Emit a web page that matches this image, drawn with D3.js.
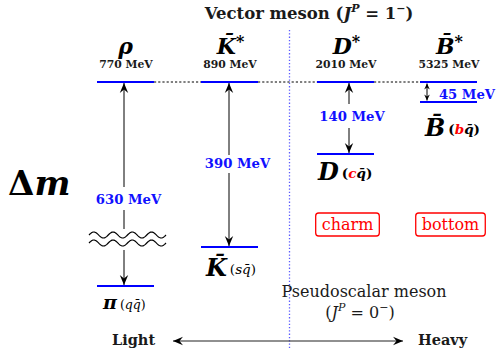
<!DOCTYPE html>
<html><head><meta charset="utf-8">
<script src="https://cdn.jsdelivr.net/npm/d3@7/dist/d3.min.js"></script>
<style>body{margin:0;background:#fff}svg{display:block}</style>
</head><body>
<script>
// ---- data ----
const mesons = ["rho", "Kstar", "Dstar", "Bstar"];
const vectorSymbol = ["ρ", "K", "D", "B"];
const vectorBar = [false, true, false, true];
const vectorStar = [false, true, true, true];
const vectorMass = [770, 890, 2010, 5325];
const massSplit = [630, 390, 140, 45];
const pseudoSymbol = ["π", "K", "D", "B"];
const pseudoBar = [false, true, false, true];
const quark = ["q", "s", "c", "b"];
const heavyQuark = [false, false, true, true];
const flavorTag = [null, null, "charm", "bottom"];

const W = 498, H = 348;
const svg = d3.select("body").append("svg").attr("width", W).attr("height", H);
const serif = "DejaVu Serif";

const x = d3.scaleOrdinal().domain(mesons).range([125.5, 229.5, 345.5, 448.5]);
// broken (piecewise) scale for mass splitting: pi level drawn with a break
const y = d3.scaleLinear().domain([0, 45, 140, 390, 630]).range([82, 102, 154, 247, 286]);
const halfW = 28.5;
const arrowDx = [-1.5, -0.5, 3.5, -21.5];

const defs = svg.append("defs");
defs.append("marker").attr("id", "stl").attr("markerUnits", "userSpaceOnUse")
  .attr("viewBox", "-11 -6 12 12").attr("refX", 0).attr("refY", 0)
  .attr("markerWidth", 12).attr("markerHeight", 12).attr("orient", "auto-start-reverse")
  .append("path").attr("d", "M0,0 L-10,-4.2 L-6.5,0 L-10,4.2 Z").attr("fill", "#000");
defs.append("marker").attr("id", "stlS").attr("markerUnits", "userSpaceOnUse")
  .attr("viewBox", "-7 -4 8 8").attr("refX", 0).attr("refY", 0)
  .attr("markerWidth", 8).attr("markerHeight", 8).attr("orient", "auto-start-reverse")
  .append("path").attr("d", "M0,0 L-6,-2.8 L-4,0 L-6,2.8 Z").attr("fill", "#000");

// divider
svg.append("line").attr("x1", 289.5).attr("x2", 289.5).attr("y1", 30).attr("y2", H)
  .attr("stroke", "#5a5aff").attr("stroke-width", 1.3).attr("stroke-dasharray", "1.3,2");

// title
const t1 = svg.append("text").attr("x", 309).attr("y", 19).attr("text-anchor", "middle")
  .attr("font-family", serif).attr("font-weight", "bold").attr("font-size", 16.5).attr("fill", "#1a1a1a");
t1.append("tspan").text("Vector meson (");
t1.append("tspan").attr("font-style", "italic").text("J");
t1.append("tspan").attr("font-style", "italic").attr("font-size", 11).attr("dy", -7).text("P");
t1.append("tspan").attr("dy", 7).text(" = 1");
t1.append("tspan").attr("font-size", 11).attr("dy", -7).text("−");
t1.append("tspan").attr("dy", 7).text(")");

// dotted connector at vector level
for (let i = 0; i < mesons.length - 1; i++) {
  svg.append("line").attr("x1", x(mesons[i]) + halfW).attr("x2", x(mesons[i + 1]) - halfW)
    .attr("y1", y(0)).attr("y2", y(0)).attr("stroke", "#000").attr("stroke-width", 1)
    .attr("stroke-dasharray", "2.2,2");
}

// levels
mesons.forEach((m, i) => {
  [0, massSplit[i]].forEach(v => {
    svg.append("line").attr("x1", x(m) - halfW).attr("x2", x(m) + halfW)
      .attr("y1", y(v)).attr("y2", y(v)).attr("stroke", "#0000ff").attr("stroke-width", 2.2);
  });
});

// vector labels
mesons.forEach((m, i) => {
  const cx = x(m) + (i === 0 ? 0 : 1);
  const t = svg.append("text").attr("x", cx).attr("y", 54).attr("text-anchor", "middle")
    .attr("font-family", serif).attr("font-weight", "bold").attr("font-style", "italic")
    .attr("font-size", 22).attr("fill", "#000");
  t.append("tspan").text(vectorSymbol[i] + (vectorBar[i] ? "\u0304" : ""));
  if (vectorStar[i]) t.append("tspan").attr("font-style", "normal").attr("font-size", 16).attr("dy", -7).text("*");
  svg.append("text").attr("x", x(m) + 0.5).attr("y", 68).attr("text-anchor", "middle")
    .attr("font-family", serif).attr("font-weight", "bold").attr("font-size", 10.8).attr("fill", "#1a1a1a")
    .text(vectorMass[i] + " MeV");
});

// arrows
const gapLab = [[187, 210], [155, 173], [104, 128], null];
mesons.forEach((m, i) => {
  const ax = x(m) + arrowDx[i];
  const y0 = y(0) + 1, y1 = y(massSplit[i]) - 1;
  if (i === 3) {
    svg.append("line").attr("x1", ax).attr("x2", ax).attr("y1", y0 + 0.5).attr("y2", y1 - 0.5)
      .attr("stroke", "#000").attr("stroke-width", 1)
      .attr("marker-start", "url(#stlS)").attr("marker-end", "url(#stlS)");
    return;
  }
  const g = gapLab[i];
  svg.append("line").attr("x1", ax).attr("x2", ax).attr("y1", g[0]).attr("y2", y0)
    .attr("stroke", "#000").attr("stroke-width", 1).attr("marker-end", "url(#stl)");
  if (i === 0) {
    svg.append("line").attr("x1", ax).attr("x2", ax).attr("y1", g[1]).attr("y2", 229)
      .attr("stroke", "#000").attr("stroke-width", 1);
    svg.append("line").attr("x1", ax).attr("x2", ax).attr("y1", 250).attr("y2", y1)
      .attr("stroke", "#000").attr("stroke-width", 1).attr("marker-end", "url(#stl)");
  } else {
    svg.append("line").attr("x1", ax).attr("x2", ax).attr("y1", g[1]).attr("y2", y1)
      .attr("stroke", "#000").attr("stroke-width", 1).attr("marker-end", "url(#stl)");
  }
});

// wavy break
[235, 243].forEach(wy => {
  const pts = d3.range(0, 77.01, 0.5).map(d => [89 + d, wy + 3 * Math.sin(d / 77 * 4 * 2 * Math.PI + Math.PI)]);
  svg.append("path").attr("d", d3.line()(pts)).attr("fill", "none").attr("stroke", "#000").attr("stroke-width", 1.2);
});

// mass splitting labels
const splitPos = [[128.5, 204], [237.5, 168], [352, 121], [467, 98.5]];
mesons.forEach((m, i) => {
  svg.append("text").attr("x", splitPos[i][0]).attr("y", splitPos[i][1]).attr("text-anchor", "middle")
    .attr("font-family", serif).attr("font-weight", "bold").attr("font-size", 13.2).attr("fill", "#1010ff")
    .text(massSplit[i] + " MeV");
});

// pseudoscalar labels
const psPos = [[103, 309], [206, 276], [318, 180], [425, 136]];
mesons.forEach((m, i) => {
  const t = svg.append("text").attr("x", psPos[i][0]).attr("y", psPos[i][1])
    .attr("font-family", serif).attr("font-weight", "bold").attr("font-size", i === 0 ? 19 : 24).attr("fill", "#000");
  t.append("tspan").attr("font-style", "italic").text(pseudoSymbol[i] + (pseudoBar[i] ? "\u0304" : ""));
  const dy = i === 0 ? 0 : -2;
  const fs = i === 0 ? 12.5 : 13.5;
  t.append("tspan").attr("font-size", fs).attr("font-weight", heavyQuark[i] ? "bold" : "normal").attr("dx", 3).attr("dy", dy).text("(");
  t.append("tspan").attr("font-size", fs).attr("font-style", "italic")
    .attr("font-weight", heavyQuark[i] ? "bold" : "normal")
    .attr("fill", heavyQuark[i] ? "#ff0000" : "#000").text(quark[i]);
  t.append("tspan").attr("font-size", fs).attr("font-style", "italic")
    .attr("font-weight", heavyQuark[i] ? "bold" : "normal").text("q\u0304");
  t.append("tspan").attr("font-size", fs).attr("font-weight", heavyQuark[i] ? "bold" : "normal").text(")");
});

// flavor tags
mesons.forEach((m, i) => {
  if (!flavorTag[i]) return;
  const cx = i === 2 ? 347.5 : 450.5;
  const txt = svg.append("text").attr("x", cx).attr("y", 230).attr("text-anchor", "middle")
    .attr("font-family", serif).attr("font-size", 16).attr("fill", "#ff0000").text(flavorTag[i]);
  const bb = txt.node().getBBox();
  svg.insert("rect", "text").attr("x", bb.x - 6).attr("y", 213).attr("width", bb.width + 12).attr("height", 23)
    .attr("rx", 3).attr("fill", "none").attr("stroke", "#ff0000").attr("stroke-width", 1.3);
});

// delta m
const dm = svg.append("text").attr("x", 8).attr("y", 195).attr("font-family", serif)
  .attr("font-weight", "bold").attr("font-size", 34).attr("fill", "#000");
dm.append("tspan").text("Δ");
dm.append("tspan").attr("font-style", "italic").text("m");

// pseudoscalar title
svg.append("text").attr("x", 364).attr("y", 297).attr("text-anchor", "middle")
  .attr("font-family", serif).attr("font-size", 16).attr("fill", "#1a1a1a").text("Pseudoscalar meson");
const t2 = svg.append("text").attr("x", 360).attr("y", 318).attr("text-anchor", "middle")
  .attr("font-family", serif).attr("font-size", 16).attr("fill", "#1a1a1a");
t2.append("tspan").text("(");
t2.append("tspan").attr("font-style", "italic").text("J");
t2.append("tspan").attr("font-style", "italic").attr("font-size", 11).attr("dy", -7).text("P");
t2.append("tspan").attr("dy", 7).text(" = 0");
t2.append("tspan").attr("font-size", 11).attr("dy", -7).text("−");
t2.append("tspan").attr("dy", 7).text(")");

// light-heavy axis
svg.append("line").attr("x1", 173).attr("x2", 403).attr("y1", 341).attr("y2", 341)
  .attr("stroke", "#222").attr("stroke-width", 1.1)
  .attr("marker-start", "url(#stl)").attr("marker-end", "url(#stl)");
svg.append("text").attr("x", 112).attr("y", 345).attr("font-family", serif).attr("font-weight", "bold")
  .attr("font-size", 14.5).attr("fill", "#1a1a1a").text("Light");
svg.append("text").attr("x", 418).attr("y", 345).attr("font-family", serif).attr("font-weight", "bold")
  .attr("font-size", 14.5).attr("fill", "#1a1a1a").text("Heavy");
</script>
</body></html>
